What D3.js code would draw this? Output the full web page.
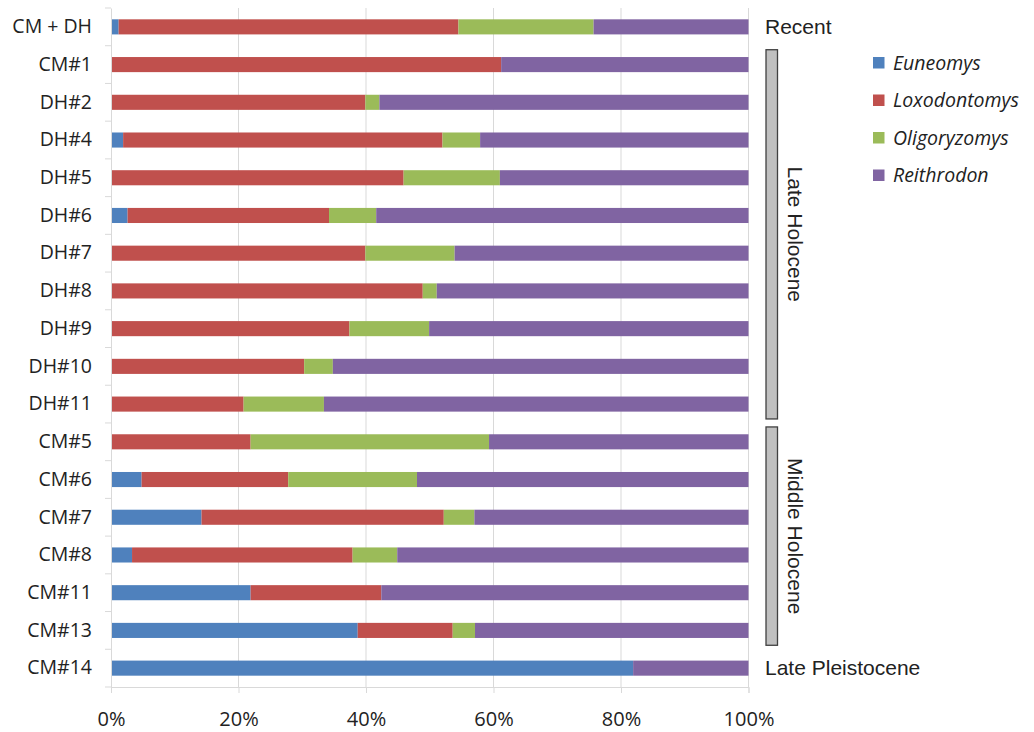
<!DOCTYPE html>
<html><head><meta charset="utf-8">
<script src="https://cdn.jsdelivr.net/npm/d3@7"></script>
<style>
body{margin:0;background:#fff;}
svg{display:block;}
</style></head>
<body>
<svg id="chart" width="1034" height="732"></svg>
<script>
const samples = ["CM + DH","CM#1","DH#2","DH#4","DH#5","DH#6","DH#7","DH#8","DH#9","DH#10","DH#11","CM#5","CM#6","CM#7","CM#8","CM#11","CM#13","CM#14"];
const seriesNames = ["Euneomys","Loxodontomys","Oligoryzomys","Reithrodon"];
const euneomys     = [1.2, 0,   0,   1.9, 0,    2.6, 0,    0,    0,    0,    0,    0,    4.8,  14.2, 3.3,  21.9, 38.7, 81.9];
const loxodontomys = [53.3,61.2,39.9,50.1,45.9, 31.6, 39.9, 48.9, 37.4, 30.3, 20.8, 21.9, 23.0, 38.0, 34.6, 20.5, 14.9, 0];
const oligoryzomys = [21.2,0,   2.2, 5.9, 15.1, 7.4,  14.0, 2.2,  12.5, 4.5,  12.6, 37.4, 20.2, 4.8,  7.0,  0,    3.5,  0];
const reithrodon   = [24.3,38.8,57.9,42.1,39.0, 58.4, 46.1, 48.9, 50.1, 65.2, 66.6, 40.7, 52.0, 43.0, 55.1, 57.6, 42.9, 18.1];
const tickValues = [0,0.2,0.4,0.6,0.8,1.0];
const periods = [
  {label:"Recent", from:"CM + DH", to:"CM + DH", bracket:false},
  {label:"Late Holocene", from:"CM#1", to:"DH#11", bracket:true},
  {label:"Middle Holocene", from:"CM#5", to:"CM#13", bracket:true},
  {label:"Late Pleistocene", from:"CM#14", to:"CM#14", bracket:false}
];
const colors = ["#4f81bd","#c0504d","#9bbb59","#8064a2"];

const table = samples.map((s,i)=>{
  const vals=[euneomys[i],loxodontomys[i],oligoryzomys[i],reithrodon[i]];
  const tot=d3.sum(vals);
  const row={sample:s};
  seriesNames.forEach((n,j)=>row[n]=vals[j]/tot);
  return row;
});

const svg = d3.select("#chart");
const x = d3.scaleLinear().domain([0,1]).range([111,748.5]);
const y = d3.scaleBand().domain(samples).range([8,687]).paddingInner(0.6).paddingOuter(0.3);
const sansFont = "'Open Sans', Lato, sans-serif";

// gridlines
svg.append("g").selectAll("line").data(tickValues.slice(1)).join("line")
  .attr("x1",d=>x(d)).attr("x2",d=>x(d)).attr("y1",8).attr("y2",687)
  .attr("stroke","#d9d9d9").attr("stroke-width",1);

// stacked bars
const stack = d3.stack().keys(seriesNames)(table);
svg.append("g").selectAll("g").data(stack).join("g")
  .attr("fill",(d,i)=>colors[i])
  .selectAll("rect").data(d=>d).join("rect")
  .attr("x",d=>x(d[0])).attr("width",d=>Math.max(0,x(d[1])-x(d[0])))
  .attr("y",d=>y(d.data.sample)).attr("height",y.bandwidth());

// x axis
const xAxis = svg.append("g").attr("transform","translate(0,687)")
  .call(d3.axisBottom(x).tickValues(tickValues).tickFormat(d3.format(".0%")).tickSize(6).tickPadding(19));
xAxis.select(".domain").attr("stroke","#d9d9d9");
xAxis.selectAll(".tick line").attr("stroke","#d9d9d9");
xAxis.selectAll("text").attr("font-family",sansFont).attr("font-size","20px").attr("fill","#222");

// y axis
const yAxis = svg.append("g").attr("transform","translate(111,0)")
  .call(d3.axisLeft(y).tickSize(0).tickPadding(19));
yAxis.select(".domain").attr("stroke","#d9d9d9");
yAxis.selectAll("text").attr("font-family",sansFont).attr("font-size","19.5px").attr("fill","#222");
// category separators ticks
const bounds = samples.map(s=>y(s)-y.step()*0.3).concat([687]);
svg.append("g").selectAll("line").data(bounds).join("line")
  .attr("x1",105).attr("x2",111).attr("y1",d=>d).attr("y2",d=>d)
  .attr("stroke","#d9d9d9");

// period annotations
const pg = svg.append("g").attr("font-family","'Liberation Sans', Arial, sans-serif").attr("font-size","21px").attr("fill","#222");
periods.forEach(p=>{
  const top = y(p.from)-y.step()*0.3+4;
  const bot = y(p.to)+y.bandwidth()+y.step()*0.3-4;
  if(p.bracket){
    pg.append("rect").attr("x",766).attr("y",top).attr("width",11.5).attr("height",bot-top)
      .attr("fill","#c0c0c0").attr("stroke","#404040").attr("stroke-width",1.3);
    const cy=(top+bot)/2;
    pg.append("text").attr("transform",`translate(787.5,${cy}) rotate(90)`)
      .attr("text-anchor","middle").text(p.label);
  } else {
    pg.append("text").attr("x",765).attr("y",y(p.from)+y.bandwidth()/2).attr("dy","0.35em").text(p.label);
  }
});

// legend
const lg = svg.append("g").attr("transform","translate(873,63)");
seriesNames.forEach((n,i)=>{
  const g=lg.append("g").attr("transform",`translate(0,${i*37.5})`);
  g.append("rect").attr("x",0).attr("y",-6).attr("width",11.5).attr("height",11.5).attr("fill",colors[i]);
  g.append("text").attr("x",20).attr("y",0).attr("dy","0.35em")
    .attr("font-family",sansFont).attr("font-style","italic").attr("font-size","19.5px").attr("fill","#222").text(n);
});
</script>
</body></html>
